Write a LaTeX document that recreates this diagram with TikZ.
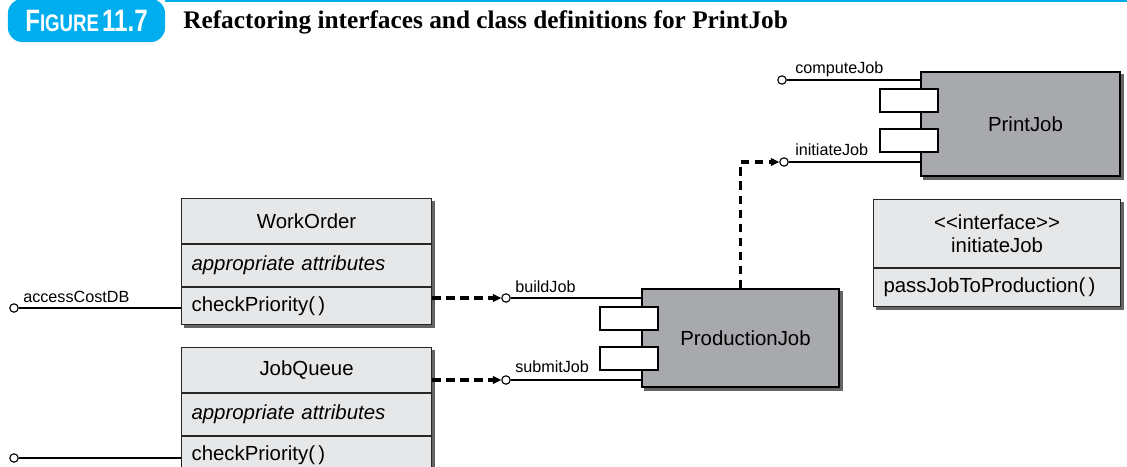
\documentclass[tikz,border=0pt]{standalone}
\usepackage{fontspec}
\setmainfont{Liberation Serif}
\setsansfont{Liberation Sans}
\usetikzlibrary{arrows.meta,positioning,backgrounds}
\definecolor{figblue}{RGB}{0,174,239}
\definecolor{classgray}{RGB}{230,231,232}
\definecolor{compgray}{RGB}{167,169,172}
\definecolor{shadowgray}{RGB}{100,100,100}
\newcommand{\rowfont}{\sffamily\fontsize{14.5}{16}\selectfont}

\begin{document}
\begin{tikzpicture}[x=0.025cm,y=-0.025cm]
\tikzset{
  classrow/.style={draw=black!85,fill=classgray,line width=0.8pt,anchor=north west,minimum width=6.25cm,text width=5.75cm,inner xsep=0.25cm,inner ysep=0pt,font=\rowfont},
  classname/.style={classrow,align=center,minimum height=1.125cm},
  classattr/.style={classrow,align=left,minimum height=1.05cm},
  classop/.style={classrow,align=left,minimum height=0.925cm},
  component/.style={draw=black,fill=compgray,line width=0.9pt,minimum width=4.925cm,minimum height=2.45cm,font=\rowfont},
  port/.style={draw=black,fill=white,line width=0.9pt,minimum width=1.45cm,minimum height=0.575cm,inner sep=0pt},
  lollipop/.style={circle,draw=black,fill=white,line width=0.8pt,minimum size=0.21cm,inner sep=0pt},
  lolline/.style={draw=black,line width=0.8pt},
  lollabel/.style={anchor=base west,inner sep=0pt,font=\sffamily\fontsize{11.5}{13}\selectfont},
  depends/.style={draw=black,line width=2.2pt,dash pattern=on 6pt off 4pt,-{Triangle[length=6pt,width=5.5pt]}},
  dropshadow/.style={fill=shadowgray},
  figtag/.style={fill=figblue,rounded corners=10pt,minimum width=3.925cm,minimum height=1.075cm,inner sep=0pt,text=white,font=\sffamily\bfseries}
}
\useasboundingbox (0,0) rectangle (1127,467);

% header
\node[figtag] (n_figure) at (86.5,20.5) {\scalebox{0.78}[1]{{\fontsize{22}{24}\selectfont F}{\fontsize{17}{18}\selectfont IGURE} {\fontsize{22}{24}\selectfont 11.7}}};
\coordinate (rule_end) at (1127,1);
\draw[figblue,line width=1.4pt] (n_figure.north east |- rule_end) -- (rule_end);
\node[anchor=west,inner sep=0pt,font=\bfseries\fontsize{18}{21}\selectfont] (n_title) at (183,22) {Refactoring interfaces and class definitions for PrintJob};

% classes
\node[classname] (n_WorkOrder) at (181,198) {WorkOrder};
\node[classattr,below=0pt of n_WorkOrder] (a_WorkOrder) {\itshape appropriate attributes};
\node[classop,below=0pt of a_WorkOrder] (o_WorkOrder) {checkPriority(\,)};

\node[classname] (n_JobQueue) at (181,347) {JobQueue};
\node[classattr,below=0pt of n_JobQueue] (a_JobQueue) {\itshape appropriate attributes};
\node[classop,below=0pt of a_JobQueue] (o_JobQueue) {checkPriority(\,)};

\node[classname,minimum width=6.175cm,text width=5.675cm,minimum height=1.7cm] (n_iface) at (873,199) {\textless{}\textless{}interface\textgreater{}\textgreater{}\\initiateJob};
\node[classop,minimum width=6.175cm,text width=5.675cm,minimum height=0.95cm,below=0pt of n_iface] (o_iface) {passJobToProduction(\,)};

% components
\node[component] (c_ProductionJob) at (740.5,338) {\hspace*{0.25cm}ProductionJob};
\node[port] (p_ProductionJob1) at (629,318.5) {};
\node[port] (p_ProductionJob2) at (629,358.5) {};

\node[component,minimum width=4.975cm,minimum height=2.6cm] (c_PrintJob) at (1020.5,124) {\hspace*{0.25cm}PrintJob};
\node[port] (p_PrintJob1) at (909,100.5) {};
\node[port] (p_PrintJob2) at (909,140.5) {};

\begin{scope}[on background layer]
\fill[dropshadow] ([shift={(3,3)}]n_WorkOrder.north west) rectangle ([shift={(3,3)}]o_WorkOrder.south east);
\fill[dropshadow] ([shift={(3,3)}]n_JobQueue.north west) rectangle ([shift={(3,3)}]o_JobQueue.south east);
\fill[dropshadow] ([shift={(3,3)}]n_iface.north west) rectangle ([shift={(3,3)}]o_iface.south east);
\fill[dropshadow] ([shift={(3,3)}]c_ProductionJob.north west) rectangle ([shift={(3,3)}]c_ProductionJob.south east);
\fill[dropshadow] ([shift={(3,3)}]c_PrintJob.north west) rectangle ([shift={(3,3)}]c_PrintJob.south east);
\end{scope}

% provided interfaces
\node[lollipop] (l_computeJob) at (782,80) {};
\node[lollipop] (l_initiateJob) at (784,162) {};
\node[lollipop] (l_buildJob) at (506,298) {};
\node[lollipop] (l_submitJob) at (506,380) {};
\node[lollipop] (l_accessCostDB) at (14,308) {};
\node[lollipop] (l_JobQueue) at (14,458) {};
\draw[lolline] (l_computeJob) -- (c_PrintJob.west |- l_computeJob);
\draw[lolline] (l_initiateJob) -- (c_PrintJob.west |- l_initiateJob);
\draw[lolline] (l_buildJob) -- (c_ProductionJob.west |- l_buildJob);
\draw[lolline] (l_submitJob) -- (c_ProductionJob.west |- l_submitJob);
\draw[lolline] (l_accessCostDB) -- (o_WorkOrder.west |- l_accessCostDB);
\draw[lolline] (l_JobQueue) -- (o_JobQueue.west |- l_JobQueue);
\node[lollabel] (t_computeJob) at ([shift={(13,-7)}]l_computeJob.center) {computeJob};
\node[lollabel] (t_initiateJob) at ([shift={(11,-7)}]l_initiateJob.center) {initiateJob};
\node[lollabel] (t_buildJob) at ([shift={(9,-6)}]l_buildJob.center) {buildJob};
\node[lollabel] (t_submitJob) at ([shift={(9,-8)}]l_submitJob.center) {submitJob};
\node[lollabel] (t_accessCostDB) at ([shift={(9,-6)}]l_accessCostDB.center) {accessCostDB};

% dependencies
\draw[depends] (o_WorkOrder.east |- l_buildJob) -- (l_buildJob);
\draw[depends] (n_JobQueue.east |- l_submitJob) -- (l_submitJob);
\draw[depends] (c_ProductionJob.north) |- (l_initiateJob);
\end{tikzpicture}
\end{document}
